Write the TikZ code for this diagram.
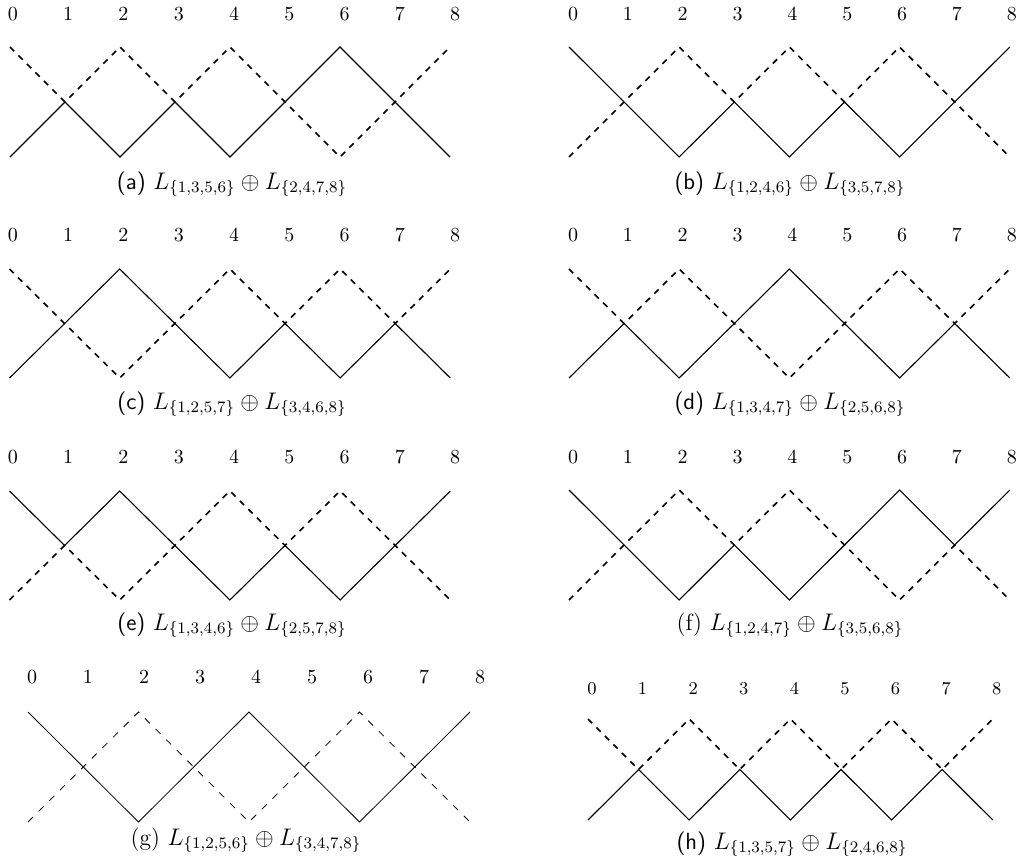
\documentclass[tikz,border=0pt]{standalone}
\usepackage{amsmath}
\tikzset{
  solidline/.style={line width=0.55pt, line join=miter},
  dashline/.style={line width=0.8pt, dashed},
  thinsolid/.style={line width=0.4pt},
  thindash/.style={line width=0.4pt, dash pattern=on 3.5pt off 4pt},
  lbl/.style={anchor=base, inner sep=0pt, font=\normalsize},
  capnode/.style={anchor=base, inner sep=0pt, font=\fontsize{11.7}{14}\selectfont},
}
% #1 name, #2 x0, #3 step, #4 ytop, #5 ybot, #6 solid heights, #7 solid style, #8 dashed style
\newcommand\zzlines[8]{%
  \foreach \h [count=\i from 0] in {#6} {
    \coordinate (#1s\i) at ({#2+#3*\i},{#4+(#5-#4)*(2-\h)/2});
    \coordinate (#1d\i) at ({#2+#3*\i},{#4+(#5-#4)*\h/2});
  }
  \draw[#7] (#1s0) -- (#1s1) -- (#1s2) -- (#1s3) -- (#1s4) -- (#1s5) -- (#1s6) -- (#1s7) -- (#1s8);
  \draw[#8] (#1d0) -- (#1d1) -- (#1d2) -- (#1d3) -- (#1d4) -- (#1d5) -- (#1d6) -- (#1d7) -- (#1d8);
}
% #1 name, #2 lx0, #3 lstep, #4 baseline, #5 font
\newcommand\zzlabels[5]{%
  \foreach \k in {0,...,8} {
    \node[lbl, font=#5] (#1l\k) at ({#2+#3*\k},#4) {$\k$};
  }
}
\begin{document}
\begin{tikzpicture}[x=0.5pt, y=-0.5pt]
\useasboundingbox (0,0) rectangle (1025,867);
% (a)
\zzlabels{a}{13}{55.25}{20}{\normalsize}
\zzlines{a}{10}{55}{47}{157}{0,1,0,1,0,1,2,1,0}{solidline}{dashline}
\node[capnode] (acap) at (232,189) {\textsf{(a)} $L_{\{1,3,5,6\}}\oplus L_{\{2,4,7,8\}}$};
% (b)
\zzlabels{b}{573}{54.85}{20}{\normalsize}
\zzlines{b}{569}{55.1}{47}{157}{2,1,0,1,0,1,0,1,2}{solidline}{dashline}
\node[capnode] (bcap) at (790,189) {\textsf{(b)} $L_{\{1,2,4,6\}}\oplus L_{\{3,5,7,8\}}$};
% (c)
\zzlabels{c}{13}{55.25}{242}{\normalsize}
\zzlines{c}{9.5}{55.1}{269}{378}{0,1,2,1,0,1,0,1,0}{solidline}{dashline}
\node[capnode] (ccap) at (232,409) {\textsf{(c)} $L_{\{1,2,5,7\}}\oplus L_{\{3,4,6,8\}}$};
% (d)
\zzlabels{d}{573}{54.85}{242}{\normalsize}
\zzlines{d}{569}{55.1}{269}{378}{0,1,0,1,2,1,0,1,0}{solidline}{dashline}
\node[capnode] (dcap) at (790,409) {\textsf{(d)} $L_{\{1,3,4,7\}}\oplus L_{\{2,5,6,8\}}$};
% (e)
\zzlabels{e}{13}{55.25}{463}{\normalsize}
\zzlines{e}{9.5}{55.1}{491}{600}{2,1,2,1,0,1,0,1,2}{solidline}{dashline}
\node[capnode] (ecap) at (232,630) {\textsf{(e)} $L_{\{1,3,4,6\}}\oplus L_{\{2,5,7,8\}}$};
% (f)
\zzlabels{f}{573}{54.85}{463}{\normalsize}
\zzlines{f}{569}{55.1}{490}{600}{2,1,0,1,0,1,2,1,2}{solidline}{dashline}
\node[capnode] (fcap) at (790,630) {(f) $L_{\{1,2,4,7\}}\oplus L_{\{3,5,6,8\}}$};
% (g)
\zzlabels{g}{32}{56}{683}{\normalsize}
\zzlines{g}{28}{55.25}{712}{822}{2,1,0,1,2,1,0,1,2}{thinsolid}{thindash}
\node[capnode] (gcap) at (246,845) {(g) $L_{\{1,2,5,6\}}\oplus L_{\{3,4,7,8\}}$};
% (h)
\zzlabels{h}{592}{50.6}{694}{\small}
\zzlines{h}{588}{50.6}{719}{820}{0,1,0,1,0,1,0,1,0}{solidline}{dashline}
\node[capnode] (hcap) at (792,849) {\textsf{(h)} $L_{\{1,3,5,7\}}\oplus L_{\{2,4,6,8\}}$};
\end{tikzpicture}
\end{document}
